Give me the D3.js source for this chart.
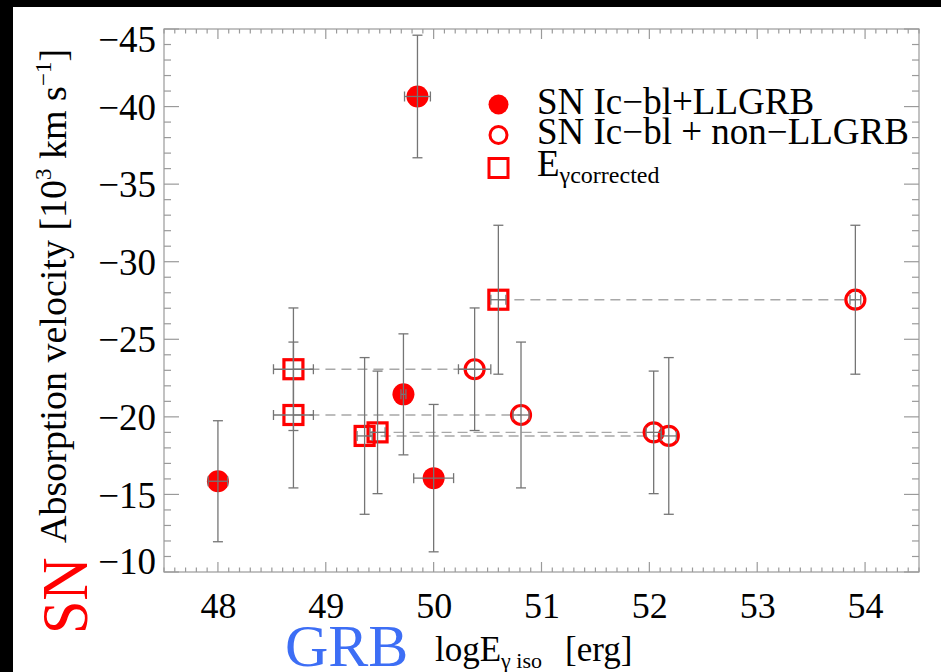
<!DOCTYPE html>
<html>
<head>
<meta charset="utf-8">
<script src="https://cdn.jsdelivr.net/npm/d3@7"></script>
<style>
  html, body { margin: 0; padding: 0; background: #fff; }
  svg { display: block; }
  svg text { font-family: 'Liberation Serif', 'Times New Roman', 'DejaVu Serif', serif !important; }
  .frame { fill: none; stroke: #9a9a9a; stroke-width: 1.2; }
  .tk { stroke: #9a9a9a; stroke-width: 1.2; }
  .eb { stroke: #757575; stroke-width: 1.3; fill: none; }
  .dash { stroke: #a8a8a8; stroke-width: 1.4; stroke-dasharray: 10 6; }
</style>
</head>
<body>
<svg id="chart" width="941" height="672"></svg>
<script>
// x: log E_gamma,iso [erg], y: absorption velocity [1e3 km/s]
const xTicks = [48, 49, 50, 51, 52, 53, 54];
const yTicks = [-45, -40, -35, -30, -25, -20, -15, -10];

// SN Ic-bl + LLGRB (filled circles)
const llgrbX = [48.0, 49.85, 49.72, 50.0];
const llgrbY = [-15.85, -40.65, -21.45, -16.05];
const llgrbXErr = [0.09, 0.12, 0.023, 0.185];
const llgrbYErr = [3.9, 3.95, 3.9, 4.75];

// SN Ic-bl + non-LLGRB (open circles)
const nonX = [50.38, 50.81, 53.91, 52.04, 52.18];
const nonY = [-23.07, -20.12, -27.55, -19.0, -18.77];
const nonXErr = [0.15, 0.075, 0.05, 0.07, 0.07];
const nonYErr = [3.95, 4.7, 4.8, 3.95, 5.05];

// E_gamma corrected (squares), same order as the non-LLGRB events
const corrX = [48.70, 48.70, 50.60, 49.48, 49.36];
const corrXErr = [0.185, 0.185, 0.07, 0.07, 0.07];

const svg = d3.select('#chart');
const L = 164, R = 919, T = 29, B = 572;
const x = d3.scaleLinear().domain([47.5, 54.5]).range([L, R]);
const y = d3.scaleLinear().domain([-45, -10]).range([T, B]);

// black border strips
svg.append('rect').attr('x', 0).attr('y', 0).attr('width', 941).attr('height', 7).attr('fill', '#000');
svg.append('rect').attr('x', 0).attr('y', 0).attr('width', 13).attr('height', 672).attr('fill', '#000');

// minor / major ticks on all four sides, pointing inward
const xMinor = d3.range(475, 546).map((v) => v / 10);
const yMinor = d3.range(-45, -9);
const tg = svg.append('g');
xMinor.forEach((v) => {
  const major = Math.abs(v - Math.round(v)) < 1e-6;
  const len = major ? 10 : 4.5;
  tg.append('line').attr('class', 'tk').attr('x1', x(v)).attr('x2', x(v)).attr('y1', B).attr('y2', B - len);
  tg.append('line').attr('class', 'tk').attr('x1', x(v)).attr('x2', x(v)).attr('y1', T).attr('y2', T + len);
});
yMinor.forEach((v) => {
  const len = v % 5 === 0 ? 15 : 7;
  tg.append('line').attr('class', 'tk').attr('x1', L).attr('x2', L + len).attr('y1', y(v)).attr('y2', y(v));
  tg.append('line').attr('class', 'tk').attr('x1', R).attr('x2', R - len).attr('y1', y(v)).attr('y2', y(v));
});
svg.append('rect').attr('class', 'frame').attr('x', L).attr('y', T).attr('width', R - L).attr('height', B - T);

// tick labels via d3 axes (tick lines hidden, drawn above)
const xAxis = svg.append('g').attr('transform', `translate(0,${B})`)
  .call(d3.axisBottom(x).tickValues(xTicks).tickSize(0).tickPadding(46).tickFormat(d3.format('d')));
xAxis.select('.domain').remove();
xAxis.attr('font-family', null).attr('font-size', null);
xAxis.selectAll('text').attr('font-size', 36).attr('fill', '#000').attr('dy', 0);

const yAxis = svg.append('g').attr('transform', `translate(${L},0)`)
  .call(d3.axisLeft(y).tickValues(yTicks).tickSize(0).tickPadding(8).tickFormat(d3.format('d')));
yAxis.select('.domain').remove();
yAxis.attr('font-family', null).attr('font-size', null);
yAxis.selectAll('text').attr('font-size', 37).attr('fill', '#000')
  .attr('dy', (d) => (d === -45 ? '0.62em' : (d === -10 ? '0.05em' : '0.34em')));

// dashed connectors square -> open circle
const plot = svg.append('g');
plot.selectAll('line.dash').data(corrX).join('line').attr('class', 'dash')
  .attr('x1', (d) => x(d)).attr('x2', (d, i) => x(nonX[i]))
  .attr('y1', (d, i) => y(nonY[i])).attr('y2', (d, i) => y(nonY[i]));

// markers
const red = '#ff0000';
plot.selectAll('circle.ll').data(llgrbX).join('circle').attr('class', 'll')
  .attr('cx', (d) => x(d)).attr('cy', (d, i) => y(llgrbY[i])).attr('r', 11).attr('fill', red);
plot.selectAll('circle.non').data(nonX).join('circle').attr('class', 'non')
  .attr('cx', (d) => x(d)).attr('cy', (d, i) => y(nonY[i])).attr('r', 9.5)
  .attr('fill', 'none').attr('stroke', red).attr('stroke-width', 3.2);
plot.selectAll('rect.corr').data(corrX).join('rect').attr('class', 'corr')
  .attr('x', (d) => x(d) - 9.5).attr('y', (d, i) => y(nonY[i]) - 9.5)
  .attr('width', 19).attr('height', 19)
  .attr('fill', 'none').attr('stroke', red).attr('stroke-width', 3.2);

// error bars drawn on top of markers
function errBars(xs, ys, xe, ye) {
  const g = svg.append('g');
  xs.forEach((xv, i) => {
    const cx = x(xv), cy = y(ys[i]);
    const y0 = y(ys[i] - ye[i]), y1 = y(ys[i] + ye[i]);
    const x0 = x(xv - xe[i]), x1 = x(xv + xe[i]);
    g.append('line').attr('class', 'eb').attr('x1', cx).attr('x2', cx).attr('y1', y0).attr('y2', y1);
    g.append('line').attr('class', 'eb').attr('x1', cx - 5).attr('x2', cx + 5).attr('y1', y0).attr('y2', y0);
    g.append('line').attr('class', 'eb').attr('x1', cx - 5).attr('x2', cx + 5).attr('y1', y1).attr('y2', y1);
    g.append('line').attr('class', 'eb').attr('x1', x0).attr('x2', x1).attr('y1', cy).attr('y2', cy);
    g.append('line').attr('class', 'eb').attr('x1', x0).attr('x2', x0).attr('y1', cy - 5).attr('y2', cy + 5);
    g.append('line').attr('class', 'eb').attr('x1', x1).attr('x2', x1).attr('y1', cy - 5).attr('y2', cy + 5);
  });
}
errBars(llgrbX, llgrbY, llgrbXErr, llgrbYErr);
errBars(nonX, nonY, nonXErr, nonYErr);
errBars(corrX, nonY, corrXErr, nonYErr);

// legend
const lg = svg.append('g');
lg.append('circle').attr('cx', 498.5).attr('cy', 104.5).attr('r', 10).attr('fill', red);
lg.append('circle').attr('cx', 498.5).attr('cy', 135).attr('r', 8.5).attr('fill', 'none').attr('stroke', red).attr('stroke-width', 3);
lg.append('rect').attr('x', 489).attr('y', 158.5).attr('width', 19).attr('height', 19).attr('fill', 'none').attr('stroke', red).attr('stroke-width', 3);
lg.append('text').attr('x', 537).attr('y', 114).attr('font-size', 37).text('SN Ic\u2212bl+LLGRB');
lg.append('text').attr('x', 537).attr('y', 144).attr('font-size', 37).text('SN Ic\u2212bl + non\u2212LLGRB');
const l3 = lg.append('text').attr('x', 537).attr('y', 176).attr('font-size', 37);
l3.append('tspan').text('E');
l3.append('tspan').attr('font-size', 24).attr('dy', 7).text('\u03b3corrected');

// axis titles
const yt = svg.append('text').attr('transform', 'translate(66,543) rotate(-90)').attr('font-size', 38);
yt.append('tspan').text('Absorption velocity [10');
yt.append('tspan').attr('font-size', 23).attr('dy', -15).text('3');
yt.append('tspan').attr('dy', 15).text(' km s');
yt.append('tspan').attr('font-size', 23).attr('dy', -15).text('\u22121');
yt.append('tspan').attr('dy', 15).text(']');

svg.append('text').attr('transform', 'translate(87,634) rotate(-90) scale(1,1.1)')
  .attr('font-size', 60).attr('fill', red).text('SN');

svg.append('text').attr('x', 285).attr('y', 666).attr('font-size', 60).attr('fill', '#3d6ef5').text('GRB');
const xt = svg.append('text').attr('x', 435).attr('y', 661).attr('font-size', 35);
xt.append('tspan').text('logE');
xt.append('tspan').attr('font-size', 22).attr('dy', 7).text('\u03b3 iso');
xt.append('tspan').attr('x', 565).attr('dy', -7).text('[erg]');
</script>
</body>
</html>
